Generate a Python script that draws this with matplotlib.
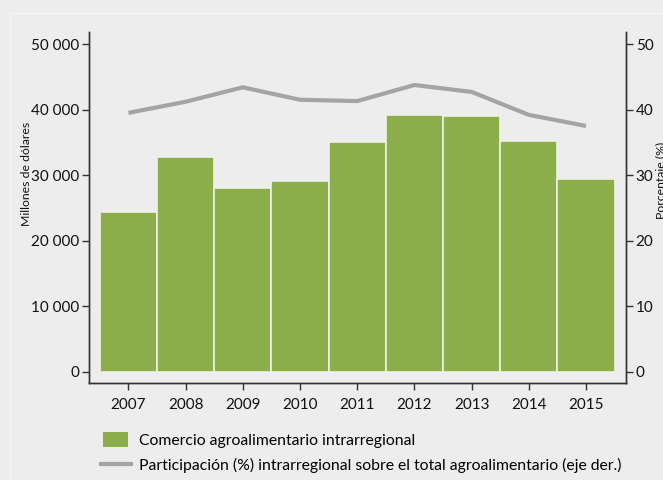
import matplotlib.pyplot as plt
from matplotlib.patches import Patch, Rectangle
from matplotlib.lines import Line2D
from matplotlib.legend_handler import HandlerPatch
from matplotlib.ticker import FuncFormatter

# Data
years = ["2007", "2008", "2009", "2010", "2011", "2012", "2013", "2014", "2015"]
trade = [24400, 32800, 28100, 29100, 35000, 39200, 39000, 35250, 29450]   # millones de dólares
share = [39.5, 41.2, 43.4, 41.5, 41.3, 43.75, 42.7, 39.2, 37.5]           # %

bar_label = "Comercio agroalimentario intrarregional"
line_label = "Participación (%) intrarregional sobre el total agroalimentario (eje der.)"

plt.rcParams["font.family"] = ["Lato", "DejaVu Sans"]

bg = "#ededed"
green = "#8cae4b"
grey = "#a4a4a4"
dark = "#333333"
txt = "#111111"

fig = plt.figure(figsize=(6.63, 4.8), dpi=100, facecolor=bg)
fig.patches.append(Rectangle((10 / 663, -0.1), 1.2, 1 - 13 / 480 + 0.1,
                             transform=fig.transFigure, fill=False,
                             edgecolor="#f6f6f6", lw=1))

ax = fig.add_axes([89 / 663, 1 - 383 / 480, (626 - 89) / 663, (383 - 32) / 480])
ax.set_facecolor(bg)

x = range(len(years))
ax.bar(x, trade, width=1.0, color=green, edgecolor="#eef2e6", linewidth=1.2)

ax.set_xlim(-0.69, 8.7)
ax.set_ylim(-1720, 51840)
ax.set_xticks(list(x))
ax.set_xticklabels(years)
ax.set_yticks(range(0, 50001, 10000))
ax.yaxis.set_major_formatter(FuncFormatter(lambda v, p: f"{int(v):,}".replace(",", " ")))
ax.tick_params(direction="out", length=5, width=1, color=dark, labelsize=11,
               labelcolor=txt, pad=2)
ax.tick_params(axis="x", pad=6)
ax.spines["top"].set_visible(False)
for s in ["left", "right", "bottom"]:
    ax.spines[s].set_color(dark)
    ax.spines[s].set_linewidth(1)
ax.set_ylabel("Millones de dólares", fontsize=8.8, color=txt)
ax.yaxis.set_label_coords((32 - 89) / 537, 0.597)

ax2 = ax.twinx()
ax2.plot(x, share, color=grey, lw=3, solid_capstyle="butt")
ax2.set_ylim(-1.72, 51.84)
ax2.set_yticks(range(0, 51, 10))
ax2.tick_params(direction="out", length=5, width=1, color=dark, labelsize=11,
                labelcolor=txt, pad=2)
ax2.spines["top"].set_visible(False)
for s in ["left", "right", "bottom"]:
    ax2.spines[s].set_color(dark)
    ax2.spines[s].set_linewidth(1)
# the reference lets this label run past the right edge
ax2.set_ylabel("Porcentaje (%)", fontsize=8.8, color=txt)
ax2.yaxis.set_label_coords((656 - 89) / 537, 0.578)


def narrow_patch(legend, orig_handle, xdescent, ydescent, width, height, fontsize):
    return Rectangle((-xdescent + 0.07 * width, -ydescent), 0.83 * width, height)


handles = [Patch(facecolor=green, edgecolor="none"),
           Line2D([], [], color=grey, lw=3)]
fig.legend(handles, [bar_label, line_label], loc="upper left",
           bbox_to_anchor=(95 / 663, 1 - 426 / 480), frameon=False,
           fontsize=11.3, handlelength=1.91, handleheight=1.08,
           labelspacing=0.6, handletextpad=0.52, borderaxespad=0,
           handler_map={Patch: HandlerPatch(patch_func=narrow_patch)})

fig.savefig("out.png", dpi=100, facecolor=bg)
